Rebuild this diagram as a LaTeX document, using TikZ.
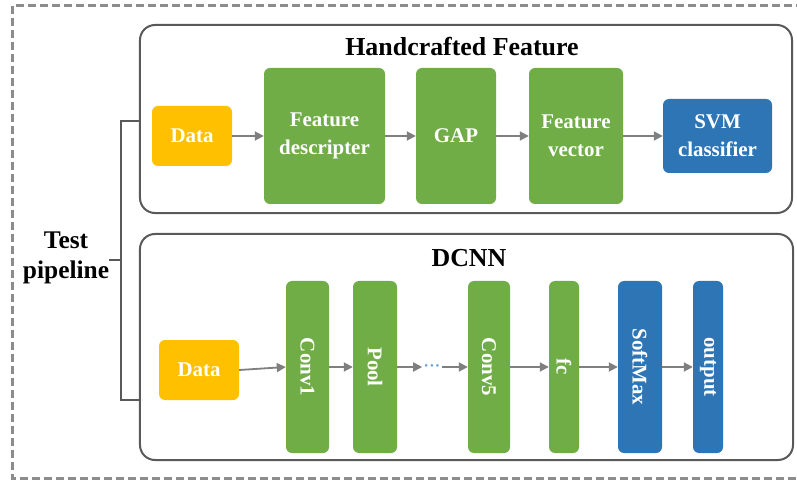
\documentclass[tikz,border=0pt]{standalone}
\usepackage{fontspec}
\setmainfont{Liberation Serif}
\usetikzlibrary{arrows.meta,calc}
\definecolor{cyel}{HTML}{FFC000}
\definecolor{cgrn}{HTML}{70AD47}
\definecolor{cblu}{HTML}{2E75B6}
\definecolor{cbord}{HTML}{595959}
\definecolor{carr}{HTML}{7F7F7F}
\definecolor{cdash}{HTML}{8C8C8C}
\definecolor{cdots}{HTML}{6FA0D0}
\tikzset{
  bigbox/.style={draw=cbord, line width=2bp, rounded corners=15bp},
  blk/.style={rounded corners=6bp, inner sep=0pt, text=white, font=\fontsize{21}{28}\selectfont\bfseries, align=center},
  yel/.style={blk, fill=cyel},
  grn/.style={blk, fill=cgrn},
  blu/.style={blk, fill=cblu},
  vtxt/.style={rotate=-90, text=white, font=\fontsize{21}{28}\selectfont\bfseries, inner sep=0pt},
  arr/.style={draw=carr, line width=1.8bp, -{Triangle[width=9bp,length=9bp]}},
  brk/.style={draw=cbord, line width=2bp},
  ttl/.style={font=\fontsize{26}{30}\selectfont\bfseries, inner sep=0pt, align=center}
}
\begin{document}
\begin{tikzpicture}[x=1bp,y=-1bp]
\useasboundingbox (0,0) rectangle (797,481);
% outer dashed frame
\draw[cdash, line width=3bp, dash pattern=on 8bp off 4bp] (12,6) rectangle (800,478);
% big boxes
\node[bigbox, minimum width=652bp, minimum height=188bp] (hbox) at (466,119) {};
\node[bigbox, minimum width=653bp, minimum height=226bp] (dbox) at (466.5,347) {};
\node[ttl] (htitle) at (462,47) {Handcrafted Feature};
\node[ttl] (dtitle) at (469,258) {DCNN};
% top row
\node[yel, minimum width=80bp, minimum height=60bp] (d1) at (192,136) {Data};
\node[grn, minimum width=121bp, minimum height=136bp] (fd) at (324.5,136) {Feature\\descripter};
\node[grn, minimum width=80bp, minimum height=136bp] (gap) at (456,136) {GAP};
\node[grn, minimum width=94bp, minimum height=136bp] (fv) at (576,136) {Feature\\vector};
\node[blu, minimum width=109bp, minimum height=74bp] (svm) at (717.5,136) {SVM\\classifier};
\draw[arr] (d1) -- (fd);
\draw[arr] (fd) -- (gap);
\draw[arr] (gap) -- (fv);
\draw[arr] (fv) -- (svm);
% bottom row
\node[yel, minimum width=80bp, minimum height=60bp] (d2) at (199,370) {Data};
\node[grn, minimum width=43bp, minimum height=172bp] (c1) at (307.5,367) {};
\node[grn, minimum width=44bp, minimum height=172bp] (pool) at (375,367) {};
\node[grn, minimum width=42bp, minimum height=172bp] (c5) at (489,367) {};
\node[grn, minimum width=30bp, minimum height=172bp] (fc) at (564,367) {};
\node[blu, minimum width=44bp, minimum height=172bp] (sm) at (640,367) {};
\node[blu, minimum width=30bp, minimum height=172bp] (out) at (708,367) {};
\node[vtxt] (c1t) at (c1) {Conv1};
\node[vtxt] (poolt) at (pool) {Pool};
\node[vtxt] (c5t) at (c5) {Conv5};
\node[vtxt] (fct) at (fc) {fc};
\node[vtxt] (smt) at (sm) {SoftMax};
\node[vtxt] (outt) at (out) {output};
\node[text=cdots, inner sep=2bp, font=\fontsize{11}{11}\selectfont] (dots) at (432,367) {\textbullet\,\textbullet\,\textbullet};
\draw[arr] (d2.east) -- (c1.west);
\draw[arr] (c1) -- (pool);
\draw[arr] (pool) -- (dots);
\draw[arr] (dots) -- (c5);
\draw[arr] (c5) -- (fc);
\draw[arr] (fc) -- (sm);
\draw[arr] (sm) -- (out);
% test pipeline bracket
\node[ttl, font=\fontsize{25.5}{30}\selectfont\bfseries] (tp) at (66,258) {Test\\pipeline};
\coordinate (bt) at (121,121);
\coordinate (bb) at (121,400);
\coordinate (bm) at (121,260);
\draw[brk] (hbox.west |- bt) -- (bt) -- (bb) -- (dbox.west |- bb);
\draw[brk] (tp.east |- bm) -- (bm);
\end{tikzpicture}
\end{document}
